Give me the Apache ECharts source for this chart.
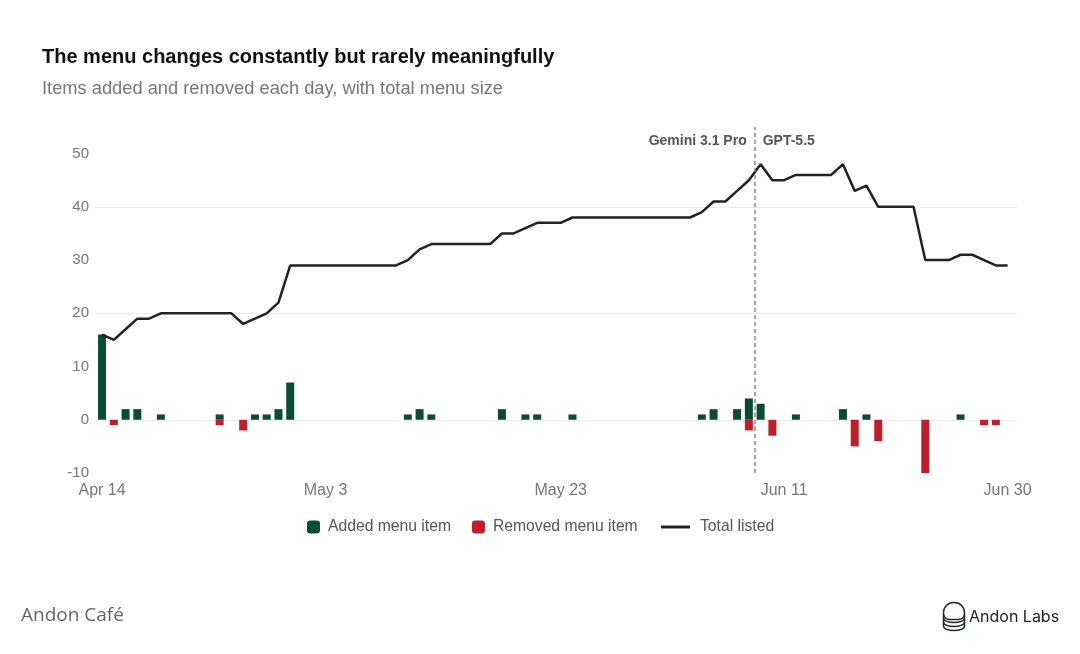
<!DOCTYPE html>
<html>
<head>
<meta charset="utf-8">
<script src="https://cdn.jsdelivr.net/npm/echarts@6/dist/echarts.min.js"></script>
<style>
  html, body { margin: 0; padding: 0; background: #fff; }
  #chart { width: 1080px; height: 654px; }
</style>
</head>
<body>
<div id="chart"></div>
<script>
// 每天一个点：Apr 14 (0) ... Jun 30 (77)
const tickDays = [0, 19, 39, 58, 77];
const tickLabels = ['Apr 14', 'May 3', 'May 23', 'Jun 11', 'Jun 30'];

const added = [
    16, 0, 2, 2, 0, 1, 0, 0, 0, 0, 1, 0, 0, 1, 1, 2, 7, 0, 0, 0,
    0, 0, 0, 0, 0, 0, 1, 2, 1, 0,
    0, 0, 0, 0, 2, 0, 1, 1, 0, 0,
    1, 0, 0, 0, 0, 0, 0, 0, 0, 0,
    0, 1, 2, 0, 2, 4, 3, 0, 0, 1,
    0, 0, 0, 2, 0, 1, 0, 0, 0, 0,
    0, 0, 0, 1, 0, 0, 0, 0
];
const removed = [
    0, -1, 0, 0, 0, 0, 0, 0, 0, 0, -1, 0, -2, 0, 0, 0, 0, 0, 0, 0,
    0, 0, 0, 0, 0, 0, 0, 0, 0, 0,
    0, 0, 0, 0, 0, 0, 0, 0, 0, 0,
    0, 0, 0, 0, 0, 0, 0, 0, 0, 0,
    0, 0, 0, 0, 0, -2, 0, -3, 0, 0,
    0, 0, 0, 0, -5, 0, -4, 0, 0, 0,
    -10, 0, 0, 0, 0, -1, -1, 0
];
const total = [
    16, 15, 17, 19, 19, 20, 20, 20, 20, 20, 20, 20, 18, 19, 20, 22, 29, 29, 29, 29,
    29, 29, 29, 29, 29, 29, 30, 32, 33, 33,
    33, 33, 33, 33, 35, 35, 36, 37, 37, 37,
    38, 38, 38, 38, 38, 38, 38, 38, 38, 38,
    38, 39, 41, 41, 43, 45, 48, 45, 45, 46,
    46, 46, 46, 48, 43, 44, 40, 40, 40, 40,
    30, 30, 30, 31, 31, 30, 29, 29
];
// 模型切换（Gemini 3.1 Pro -> GPT-5.5），在第 55 和 56 天之间
const switchDay = 55.5;

const FONT = '"Liberation Sans", Arial, sans-serif';
const GREEN = '#0b4a33';
const RED = '#bf1e2c';
const ICON = '#1e2a25';
const clear = 'rgba(0,0,0,0)';

function arc(y) {
    return { type: 'bezierCurve',
             shape: { x1: 0, y1: y, cpx1: 0, cpy1: y + 6, cpx2: 21, cpy2: y + 6, x2: 21, y2: y },
             style: { fill: 'none', stroke: ICON, lineWidth: 1.5 } };
}

const chart = echarts.init(document.getElementById('chart'));

chart.setOption({
    backgroundColor: '#fff',
    animation: false,
    textStyle: { fontFamily: FONT },
    title: [
        {
            text: 'The menu changes constantly but rarely meaningfully',
            left: 42, top: 47, padding: 0,
            textStyle: { fontFamily: FONT, fontSize: 20, fontWeight: 'bold', color: '#111' }
        },
        {
            text: 'Items added and removed each day, with total menu size',
            left: 42, top: 80, padding: 0,
            textStyle: { fontFamily: FONT, fontSize: 18.3, fontWeight: 'normal', color: '#777' }
        }
    ],
    legend: [
        {
            left: 307, top: 519, padding: 0,
            itemWidth: 13, itemHeight: 13, itemGap: 21,
            icon: 'roundRect',
            textStyle: { fontFamily: FONT, fontSize: 15.7, color: '#555', padding: [0, 0, 0, 3] },
            data: ['Added menu item', 'Removed menu item']
        },
        {
            left: 661, top: 519, padding: 0,
            itemWidth: 29, itemHeight: 3,
            textStyle: { fontFamily: FONT, fontSize: 15.7, color: '#555', padding: [0, 0, 0, 5] },
            data: [{ name: 'Total listed', icon: 'path://M0 0H29V3H0Z' }]
        }
    ],
    grid: { left: 95, right: 63, top: 127, bottom: 181 },
    xAxis: {
        type: 'value',
        min: -0.6,
        max: 77.8,
        axisLine: { show: false },
        axisTick: { show: false },
        splitLine: { show: false },
        axisLabel: {
            customValues: tickDays,
            color: '#777',
            fontSize: 16,
            margin: 10,
            formatter: v => {
                const k = tickDays.indexOf(v);
                return k >= 0 ? tickLabels[k] : '';
            }
        }
    },
    yAxis: {
        type: 'value',
        min: -10,
        max: 55,
        interval: 10,
        axisLine: { show: false },
        axisTick: { show: false },
        axisLabel: {
            color: '#777',
            fontSize: 15,
            margin: 6,
            formatter: v => (v > 50 ? '' : String(v))
        },
        splitLine: {
            lineStyle: {
                width: 1,
                color: [clear, '#ebebeb', clear, '#ebebeb', clear, '#ebebeb', clear, clear]
            }
        }
    },
    series: [
        {
            name: 'Added menu item',
            type: 'bar',
            barWidth: 8,
            barGap: '-100%',
            itemStyle: { color: GREEN },
            data: added.map((v, i) => [i, v])
        },
        {
            name: 'Removed menu item',
            type: 'bar',
            barWidth: 8,
            barGap: '-100%',
            itemStyle: { color: RED },
            data: removed.map((v, i) => [i, v])
        },
        {
            name: 'Total listed',
            type: 'line',
            symbol: 'none',
            lineStyle: { color: '#222', width: 2.5 },
            itemStyle: { color: '#222' },
            data: total.map((v, i) => [i, v]),
            markLine: {
                silent: true,
                symbol: 'none',
                lineStyle: { color: '#888', type: [4, 3], width: 1.5 },
                label: {
                    show: true,
                    position: 'end',
                    distance: -21,
                    formatter: '{a|Gemini 3.1 Pro}{b|GPT-5.5}',
                    rich: {
                        a: { padding: [0, 8, 0, 0],
                             fontFamily: FONT, fontSize: 14, fontWeight: 'bold', color: '#555' },
                        b: { padding: [0, 46, 0, 8],
                             fontFamily: FONT, fontSize: 14, fontWeight: 'bold', color: '#555' }
                    }
                },
                data: [{ xAxis: switchDay }]
            }
        }
    ],
    graphic: [
        {
            type: 'text',
            left: 21, top: 606,
            style: { text: 'Andon Café', fontFamily: '"Open Sans", sans-serif', fontSize: 19, fill: '#666' }
        },
        {
            type: 'group',
            left: 941, top: 600,
            children: [
                { type: 'rect', shape: { x: 0, y: 0, width: 21, height: 17, r: [10, 10, 6, 6] },
                  style: { fill: 'none', stroke: ICON, lineWidth: 1.5 } },
                arc(15.5), arc(19.5), arc(23.5),
                { type: 'line', shape: { x1: 0, y1: 12, x2: 0, y2: 23.5 },
                  style: { stroke: ICON, lineWidth: 1.5 } },
                { type: 'line', shape: { x1: 21, y1: 12, x2: 21, y2: 23.5 },
                  style: { stroke: ICON, lineWidth: 1.5 } }
            ]
        },
        {
            type: 'text',
            left: 969, top: 609,
            style: { text: 'Andon Labs', fontFamily: 'Inter, sans-serif', fontSize: 16, fill: '#222' }
        }
    ]
});
</script>
</body>
</html>
